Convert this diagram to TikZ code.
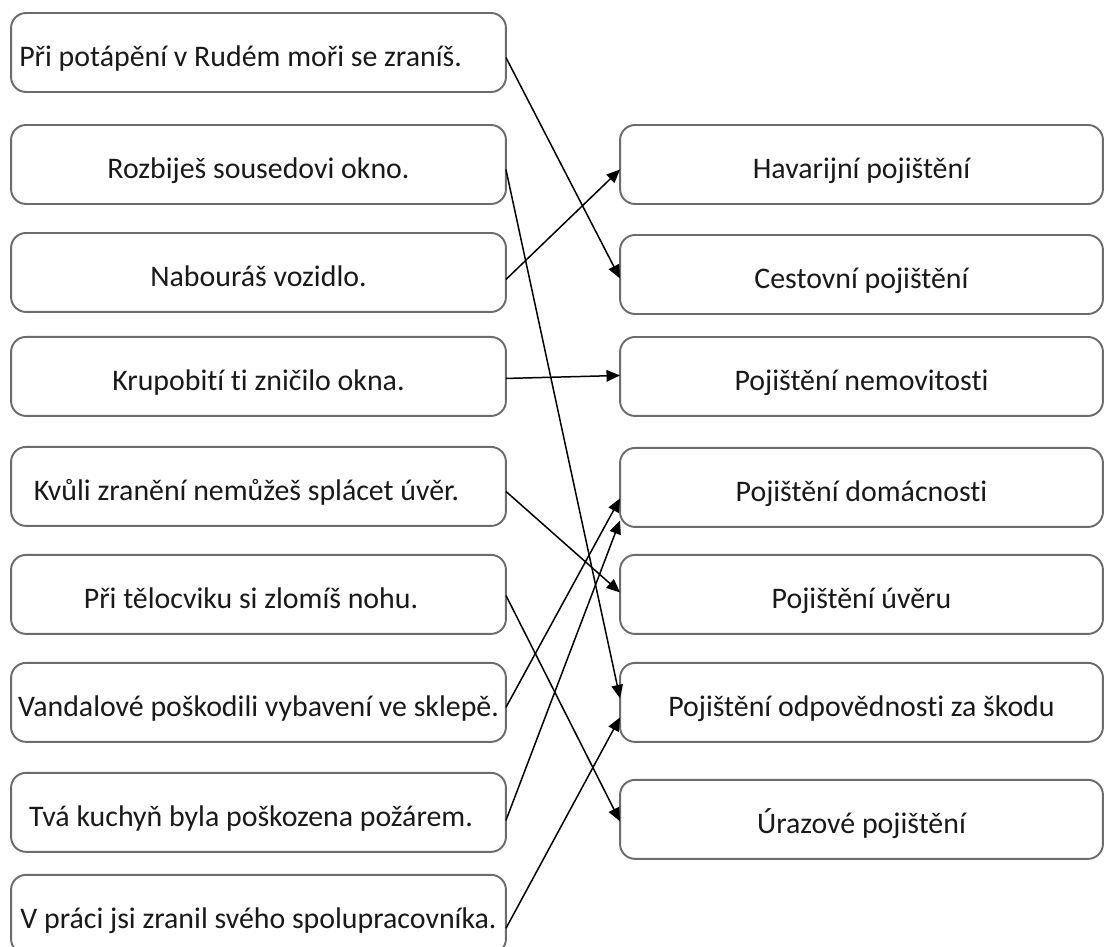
\documentclass[tikz,border=0pt]{standalone}
\usepackage{fontspec}
\setmainfont{Carlito}[Ligatures=NoCommon]
\definecolor{BoxGray}{RGB}{108,108,108}
\definecolor{InkDark}{RGB}{25,25,25}
\usepackage{tikz}
\usetikzlibrary{arrows.meta,positioning}

\begin{document}
\begin{tikzpicture}[x=0.02cm,y=-0.02cm,
  lbox/.style={draw=BoxGray,line width=1.1pt,rounded corners=0.3cm,minimum width=9.9cm,minimum height=1.58cm,inner sep=2pt,outer sep=0pt,text height=0.56cm,text depth=0cm,font=\fontsize{17}{20}\selectfont,text=InkDark},
  rbox/.style={lbox,minimum width=9.66cm},
  arr/.style={-{Triangle[length=2.7mm,width=2.3mm]},line width=0.85pt,black}]
  \clip (0,0) rectangle (1106,947);
  % situations
  \node[lbox] (potapeni) at (258.5,52.5) {Při potápění v Rudém moři se zraníš.\hspace*{1.2em}};
  \node[lbox,below=0.66cm of potapeni] (rozbijes) {Rozbiješ sousedovi okno.};
  \node[lbox,below=0.58cm of rozbijes] (nabouras) {Nabouráš vozidlo.};
  \node[lbox,below=0.5cm of nabouras] (krupobiti) {Krupobití ti zničilo okna.};
  \node[lbox,below=0.62cm of krupobiti] (kvuli) {Kvůli zranění nemůžeš splácet úvěr.\hspace*{0.8em}};
  \node[lbox,below=0.58cm of kvuli] (telocvik) {Při tělocviku si zlomíš nohu.\hspace*{0.5em}};
  \node[lbox,below=0.58cm of telocvik] (vandalove) {Vandalové poškodili vybavení ve sklepě.};
  \node[lbox,below=0.62cm of vandalove] (kuchyn) {Tvá kuchyň byla poškozena požárem.\hspace*{0.5em}};
  \node[lbox,below=0.46cm of kuchyn] (prace) {V práci jsi zranil svého spolupracovníka.};
  % insurance types
  \node[rbox] (havarijni) at (861.5,164.5) {Havarijní pojištění};
  \node[rbox,below=0.62cm of havarijni] (cestovni) {Cestovní pojištění};
  \node[rbox,below=0.46cm of cestovni] (nemovitost) {Pojištění nemovitosti};
  \node[rbox,below=0.64cm of nemovitost] (domacnost) {Pojištění domácnosti};
  \node[rbox,below=0.56cm of domacnost] (uver) {Pojištění úvěru};
  \node[rbox,below=0.58cm of uver] (odpovednost) {Pojištění odpovědnosti za škodu};
  \node[rbox,below=0.76cm of odpovednost] (urazove) {Úrazové pojištění};
  % matching
  \draw[arr] ([yshift=-0.1cm]potapeni.east) -- ([yshift=-0.08cm]cestovni.west);
  \draw[arr] ([yshift=-0.1cm]rozbijes.east) -- ([yshift=0.08cm]odpovednost.west);
  \draw[arr] ([yshift=-0.14cm]nabouras.east) -- ([yshift=-0.1cm]havarijni.west);
  \draw[arr] ([yshift=-0.04cm]krupobiti.east) -- ([yshift=0.02cm]nemovitost.west);
  \draw[arr] ([yshift=-0.1cm]kvuli.east) -- ([yshift=0.04cm]uver.west);
  \draw[arr] ([yshift=-0.02cm]telocvik.east) -- ([yshift=-0.04cm]urazove.west);
  \draw[arr] ([yshift=-0.1cm]vandalove.east) -- ([yshift=-0.22cm]domacnost.west);
  \draw[arr] ([yshift=-0.16cm]kuchyn.east) -- ([yshift=-0.66cm]domacnost.west);
  \draw[arr] ([yshift=-0.28cm]prace.east) -- ([yshift=-0.3cm]odpovednost.west);
\end{tikzpicture}
\end{document}
